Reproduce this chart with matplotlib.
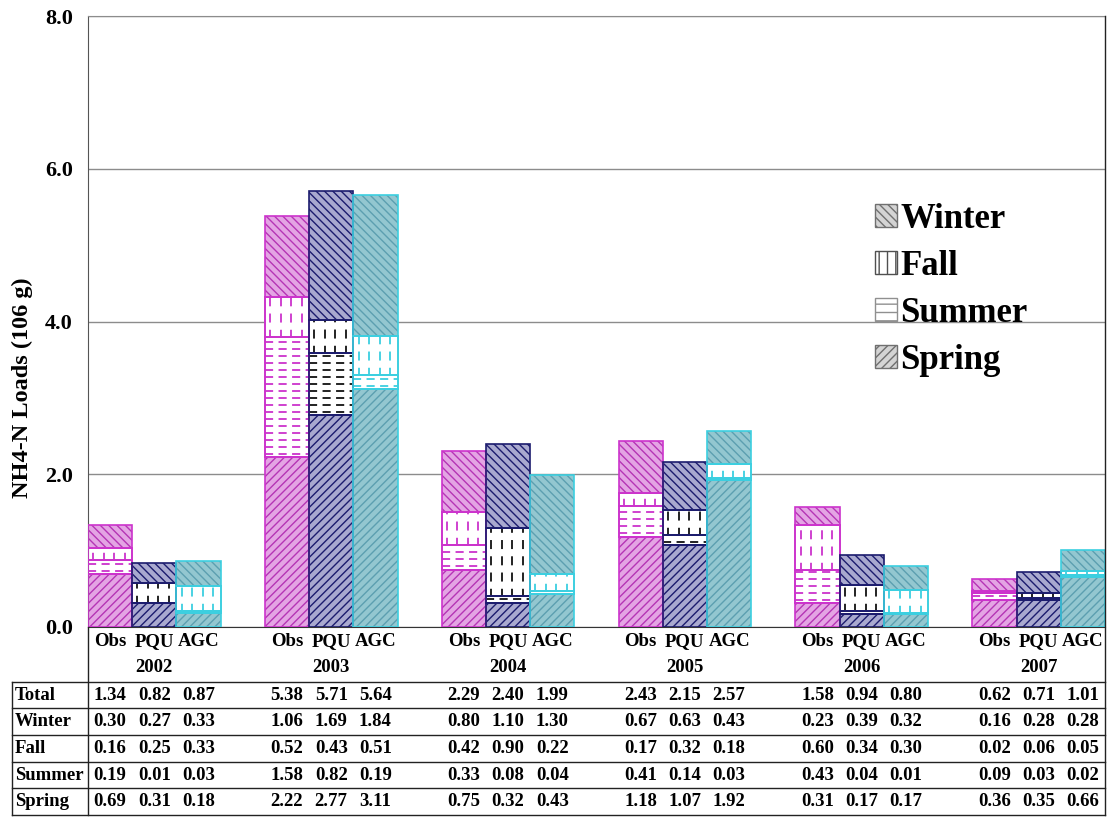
import numpy as np
import matplotlib
matplotlib.use("Agg")
import matplotlib.pyplot as plt
from matplotlib import transforms
from matplotlib.collections import LineCollection
from matplotlib.lines import Line2D
from matplotlib.patches import Patch

plt.rcParams['font.family'] = ['Liberation Serif', 'DejaVu Serif']
plt.rcParams['font.weight'] = 'bold'
plt.rcParams['hatch.linewidth'] = 1.0

# ---- data (rows = years, cols = Obs, PQU, AGC) ----
years = ['2002', '2003', '2004', '2005', '2006', '2007']
models = ['Obs', 'PQU', 'AGC']
total = [[1.34, 0.82, 0.87], [5.38, 5.71, 5.64], [2.29, 2.40, 1.99],
         [2.43, 2.15, 2.57], [1.58, 0.94, 0.80], [0.62, 0.71, 1.01]]
winter = [[0.30, 0.27, 0.33], [1.06, 1.69, 1.84], [0.80, 1.10, 1.30],
          [0.67, 0.63, 0.43], [0.23, 0.39, 0.32], [0.16, 0.28, 0.28]]
fall = [[0.16, 0.25, 0.33], [0.52, 0.43, 0.51], [0.42, 0.90, 0.22],
        [0.17, 0.32, 0.18], [0.60, 0.34, 0.30], [0.02, 0.06, 0.05]]
summer = [[0.19, 0.01, 0.03], [1.58, 0.82, 0.19], [0.33, 0.08, 0.04],
          [0.41, 0.14, 0.03], [0.43, 0.04, 0.01], [0.09, 0.03, 0.02]]
spring = [[0.69, 0.31, 0.18], [2.22, 2.77, 3.11], [0.75, 0.32, 0.43],
          [1.18, 1.07, 1.92], [0.31, 0.17, 0.17], [0.36, 0.35, 0.66]]

# styling per model: border, fill of striped parts, stripe colour, dash colour
border = {'Obs': '#CC33CC', 'PQU': '#1C1C6E', 'AGC': '#3CCFE0'}
fill = {'Obs': '#E4A4E4', 'PQU': '#A9A9CF', 'AGC': '#93C7D0'}
stripe = {'Obs': '#B535B5', 'PQU': '#1C1C6E', 'AGC': '#5C9FB0'}
dash = {'Obs': '#CC33CC', 'PQU': '#111111', 'AGC': '#3CCFE0'}

W, H = 1109, 818
fx = lambda px: px / W
fy = lambda px: 1 - px / H

fig = plt.figure(figsize=(W / 100, H / 100), dpi=100)
ax = fig.add_axes([fx(88), fy(627), fx(1105 - 88), (627 - 16) / H])

n_cat = len(years) * 4 - 1
ax.set_xlim(-0.5, n_cat - 0.5)
ax.set_ylim(0, 8)
DY = 7 * 8 / 611          # spacing of horizontal dash rows
DX = 10.5 * n_cat / 1017  # spacing of vertical dash columns


def add_dashes(patch, kind, color):
    x0, y0 = patch.get_x(), patch.get_y()
    w, h = patch.get_width(), patch.get_height()
    if kind == 'h':
        ys = np.arange(y0 + DY / 2, y0 + h, DY)
        segs = [[(x0, y), (x0 + w, y)] for y in ys]
        ls = (0, (4.5, 3))
    else:
        xs = np.arange(x0 + DX / 2, x0 + w, DX)
        segs = [[(x, y0), (x, y0 + h)] for x in xs]
        ls = (1, (5, 4))
    if not segs:
        return
    lc = LineCollection(segs, colors=color, linewidths=1.3, linestyle=ls, zorder=3)
    ax.add_collection(lc)
    lc.set_clip_path(patch)


xpos = []
for g, yr in enumerate(years):
    for k, m in enumerate(models):
        x = g * 4 + k
        xpos.append(x)
        bottom = 0.0
        for season, vals in (('spring', spring), ('summer', summer),
                             ('fall', fall), ('winter', winter)):
            v = vals[g][k]
            if season in ('spring', 'winter'):
                ax.bar(x, v, bottom=bottom, width=1.0, facecolor=fill[m],
                       edgecolor=stripe[m], linewidth=0,
                       hatch='////' if season == 'spring' else '\\\\\\\\', zorder=2)
            else:
                p = ax.bar(x, v, bottom=bottom, width=1.0, facecolor='white',
                           edgecolor=border[m], linewidth=1.2, zorder=2)[0]
                add_dashes(p, 'h' if season == 'summer' else 'v', dash[m])
            ax.bar(x, v, bottom=bottom, width=1.0, fill=False,
                   edgecolor=border[m], linewidth=1.2, zorder=4)
            bottom += v

ax.set_yticks([0, 2, 4, 6, 8])
ax.set_yticklabels(['%.1f' % t for t in [0, 2, 4, 6, 8]], fontsize=16, fontweight='bold')
ax.tick_params(axis='y', length=0, pad=11)
ax.set_xticks([])
ax.yaxis.grid(True, color='#8C8C8C', linewidth=1.0)
ax.set_axisbelow(True)
for s in ax.spines.values():
    s.set_color('#555555')
ax.spines['top'].set_color('#8C8C8C')
ax.spines['right'].set_visible(False)
ax.spines['bottom'].set_color('#333333')

fig.text(fx(22), fy(388), 'NH4-N Loads (106 g)', rotation=90, ha='center',
         va='center', fontsize=17.5, fontweight='bold')

# ---- category labels and data table ----
tr = transforms.blended_transform_factory(ax.transData, fig.transFigure)
for i, x in enumerate(xpos):
    fig.text(x, fy(642), models[i % 3], transform=tr, ha='center', va='center',
             fontsize=13.5, fontweight='bold')
for g, yr in enumerate(years):
    fig.text(g * 4 + 1, fy(668), yr, transform=tr, ha='center', va='center',
             fontsize=13.5, fontweight='bold')

row_names = ['Total', 'Winter', 'Fall', 'Summer', 'Spring']
row_data = [total, winter, fall, summer, spring]
row_edges = [682, 708, 735, 762, 788, 815]
for r, (name, vals) in enumerate(zip(row_names, row_data)):
    yc = (row_edges[r] + row_edges[r + 1]) / 2
    fig.text(fx(15), fy(yc), name, ha='left', va='center', fontsize=13.5,
             fontweight='bold')
    for g in range(len(years)):
        for k in range(3):
            fig.text(g * 4 + k, fy(yc), '%.2f' % vals[g][k], transform=tr,
                     ha='center', va='center', fontsize=13.5, fontweight='bold')

lc = '#222222'
for ye in row_edges:
    fig.add_artist(Line2D([fx(12), fx(1105)], [fy(ye)] * 2, color=lc, lw=1.0))
fig.add_artist(Line2D([fx(12)] * 2, [fy(682), fy(815)], color=lc, lw=1.0))
fig.add_artist(Line2D([fx(88)] * 2, [fy(627), fy(815)], color=lc, lw=1.0))
fig.add_artist(Line2D([fx(1105)] * 2, [fy(16), fy(815)], color=lc, lw=1.0))

# ---- legend ----
handles = [
    Patch(facecolor='#D4D4D4', edgecolor='#707070', hatch='\\\\\\\\', label='Winter'),
    Patch(facecolor='white', edgecolor='#505050', hatch='||', label='Fall'),
    Patch(facecolor='white', edgecolor='#909090', hatch='--', label='Summer'),
    Patch(facecolor='#D4D4D4', edgecolor='#707070', hatch='////', label='Spring'),
]
fig.legend(handles=handles, loc='upper left', bbox_to_anchor=(fx(861), fy(189)),
           frameon=False, prop={'size': 25, 'weight': 'bold'},
           handlelength=0.63, handleheight=0.63, handletextpad=0.1,
           labelspacing=0.4, borderaxespad=0)

fig.savefig('out.png', dpi=100)
